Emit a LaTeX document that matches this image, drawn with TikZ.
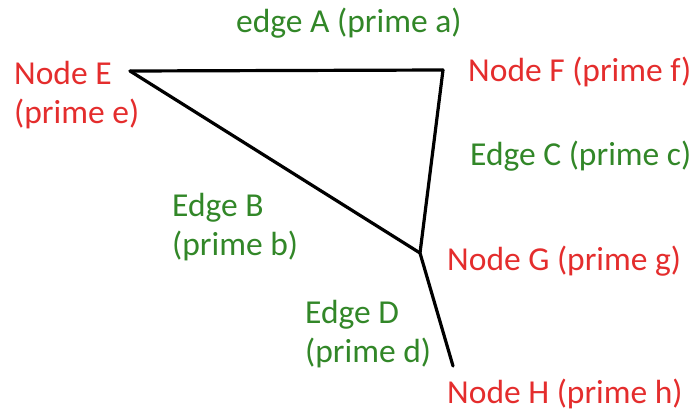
\documentclass[tikz,border=0pt]{standalone}
\usepackage{fontspec}
\setmainfont{Carlito}
\definecolor{nodered}{RGB}{228,45,45}
\definecolor{edgegreen}{RGB}{50,135,40}
\begin{document}
\begin{tikzpicture}[x=1pt,y=-1pt,
  lbl/.style={anchor=base west,inner sep=0pt,font=\fontsize{33.5}{39}\selectfont,align=left},
  nodelbl/.style={lbl,text=nodered},
  edgelbl/.style={lbl,text=edgegreen},
  edgeline/.style={draw=black,line width=3.2pt,line cap=round,line join=round}]
\useasboundingbox (0,0) rectangle (695,415);
\coordinate (E) at (130,71);
\coordinate (F) at (443,70);
\coordinate (G) at (420,253);
\coordinate (H) at (453,366);
\draw[edgeline] (E) -- (F);
\draw[edgeline] (F) -- (G);
\draw[edgeline] (E) -- (G);
\draw[edgeline] (G) -- (H);
\node[nodelbl] (lE) at (14,123) {Node E\\(prime e)};
\node[nodelbl] (lF) at (468,81) {Node F (prime f)};
\node[nodelbl] (lG) at (447,270) {Node G (prime g)};
\node[nodelbl] (lH) at (447,403) {Node H (prime h)};
\node[edgelbl] (lA) at (236,32) {edge A (prime a)};
\node[edgelbl] (lC) at (470,165) {Edge C (prime c)};
\node[edgelbl] (lB) at (172,255) {Edge B\\(prime b)};
\node[edgelbl] (lD) at (305,362) {Edge D\\(prime d)};
\end{tikzpicture}
\end{document}
